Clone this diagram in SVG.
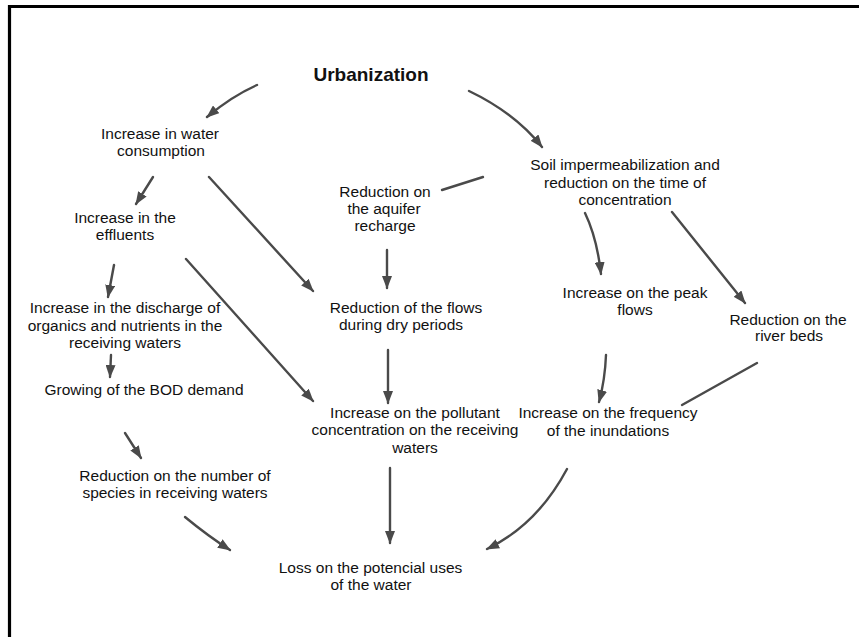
<svg xmlns="http://www.w3.org/2000/svg" width="859" height="637" viewBox="0 0 859 637">
<style>
text{font-family:"Liberation Sans",Arial,sans-serif;font-size:15.5px;fill:#111;text-anchor:middle}
.title{font-size:19px;font-weight:bold}
.c{fill:none;stroke:#4a4a4a;stroke-width:2.4;stroke-linecap:round}
</style>
<defs>
<marker id="ah" markerUnits="userSpaceOnUse" markerWidth="13" markerHeight="10" viewBox="0 0 13 10" refX="12" refY="5" orient="auto">
<path d="M0,0 L13,5 L0,10 Z" fill="#4a4a4a"/>
</marker>
</defs>
<rect width="859" height="637" fill="#fff"/>
<path d="M9.5,637 V6.5 H859" fill="none" stroke="#000" stroke-width="3.2"/>
<g id="connectors">
<path class="c" d="M257,85 Q232,96 207,117" marker-end="url(#ah)"/>
<path class="c" d="M469,91 Q515,113 542,147" marker-end="url(#ah)"/>
<path class="c" d="M153,177 L136,204" marker-end="url(#ah)"/>
<path class="c" d="M209,177 L313,291" marker-end="url(#ah)"/>
<path class="c" d="M483,177 L442,190"/>
<path class="c" d="M387,250 L387,288" marker-end="url(#ah)"/>
<path class="c" d="M114,265 L108,297" marker-end="url(#ah)"/>
<path class="c" d="M186,259 L313,401" marker-end="url(#ah)"/>
<path class="c" d="M111,355 L110,377" marker-end="url(#ah)"/>
<path class="c" d="M388,350 L388,403" marker-end="url(#ah)"/>
<path class="c" d="M585,213 Q597,238 601,274" marker-end="url(#ah)"/>
<path class="c" d="M672,212 L745,303" marker-end="url(#ah)"/>
<path class="c" d="M606,355 Q605,380 599,402" marker-end="url(#ah)"/>
<path class="c" d="M757,363 L682,405"/>
<path class="c" d="M125,433 L141,458" marker-end="url(#ah)"/>
<path class="c" d="M185,517 Q208,536 230,550" marker-end="url(#ah)"/>
<path class="c" d="M390,468 L390,543" marker-end="url(#ah)"/>
<path class="c" d="M567,469 Q537,525 487,549" marker-end="url(#ah)"/>
</g>
<g id="urbanization"><text class="title" x="371" y="81">Urbanization</text></g>
<g id="water-consumption"><text x="160" y="139">Increase in water</text><text x="161" y="156">consumption</text></g>
<g id="effluents"><text x="125" y="223">Increase in the</text><text x="125" y="240">effluents</text></g>
<g id="aquifer"><text x="385" y="197">Reduction on</text><text x="384" y="214">the aquifer</text><text x="385" y="231">recharge</text></g>
<g id="soil"><text x="625" y="169.5">Soil impermeabilization and</text><text x="625" y="187.5">reduction on the time of</text><text x="625" y="205">concentration</text></g>
<g id="discharge"><text x="125" y="313">Increase in the discharge of</text><text x="125" y="330.5">organics and nutrients in the</text><text x="125" y="348">receiving waters</text></g>
<g id="bod"><text x="144" y="395">Growing of the BOD demand</text></g>
<g id="dry-flows"><text x="406" y="313">Reduction of the flows</text><text x="401" y="329.5">during dry periods</text></g>
<g id="peak"><text x="635" y="298">Increase on the peak</text><text x="635" y="314.5">flows</text></g>
<g id="river-beds"><text x="788" y="324.5">Reduction on the</text><text x="789" y="341">river beds</text></g>
<g id="pollutant"><text x="415" y="418">Increase on the pollutant</text><text x="415" y="435">concentration on the receiving</text><text x="415" y="452.5">waters</text></g>
<g id="frequency"><text x="608" y="418">Increase on the frequency</text><text x="608" y="435.5">of the inundations</text></g>
<g id="species"><text x="175" y="481">Reduction on the number of</text><text x="175" y="498">species in receiving waters</text></g>
<g id="loss"><text x="370.5" y="573">Loss on the potencial uses</text><text x="371" y="590">of the water</text></g>
</svg>
